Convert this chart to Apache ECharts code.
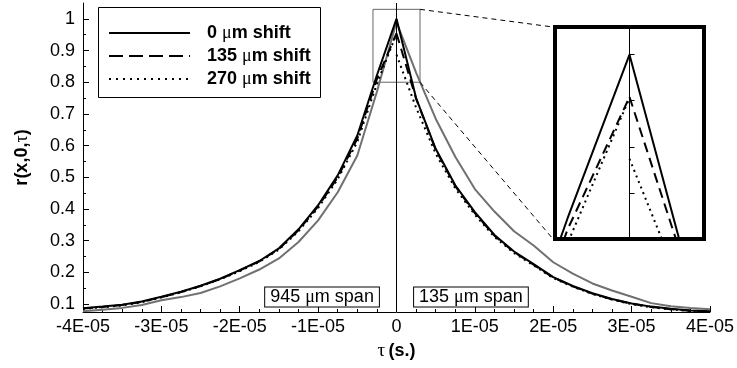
<!DOCTYPE html>
<html>
<head>
<meta charset="utf-8">
<script src="https://cdn.jsdelivr.net/npm/echarts@6/dist/echarts.min.js"></script>
<style>
  html, body { margin: 0; padding: 0; background: #fff; }
  #chart { width: 737px; height: 368px; }
</style>
</head>
<body>
<div id="chart"></div>
<script>
// lag values (s.), left half (945 um span) and right half (135 um span)
const tauLeft = [-4e-5, -3.75e-5, -3.5e-5, -3.25e-5, -3e-5, -2.75e-5, -2.5e-5, -2.25e-5, -2e-5,
  -1.75e-5, -1.5e-5, -1.25e-5, -1e-5, -7.5e-6, -5e-6, -2.5e-6, 0];
const tauRight = [0, 2.5e-6, 5e-6, 7.5e-6, 1e-5, 1.25e-5, 1.5e-5, 1.75e-5, 2e-5,
  2.25e-5, 2.5e-5, 2.75e-5, 3e-5, 3.25e-5, 3.5e-5, 3.75e-5, 4e-5];

const shift0Left = [0.087, 0.092, 0.098, 0.108, 0.123, 0.139, 0.158, 0.18, 0.207, 0.236, 0.276, 0.336, 0.412, 0.506, 0.632, 0.822, 1.0];
const shift135Left = [0.086, 0.091, 0.097, 0.107, 0.122, 0.138, 0.157, 0.179, 0.206, 0.235, 0.274, 0.333, 0.408, 0.5, 0.622, 0.81, 0.954];
const shift270Left = [0.085, 0.09, 0.096, 0.106, 0.121, 0.137, 0.156, 0.178, 0.204, 0.233, 0.272, 0.33, 0.403, 0.494, 0.612, 0.795, 0.953];
const grayLeft = [0.077, 0.082, 0.088, 0.097, 0.112, 0.122, 0.135, 0.156, 0.181, 0.209, 0.244, 0.296, 0.364, 0.453, 0.569, 0.77, 0.99];

const shift0Right = [1.0, 0.75, 0.59, 0.475, 0.39, 0.318, 0.266, 0.226, 0.185, 0.157, 0.134, 0.116, 0.102, 0.092, 0.085, 0.08, 0.077];
const shift135Right = [0.954, 0.748, 0.587, 0.472, 0.387, 0.316, 0.264, 0.224, 0.184, 0.156, 0.133, 0.115, 0.101, 0.091, 0.084, 0.079, 0.076];
const shift270Right = [0.887, 0.72, 0.575, 0.465, 0.382, 0.312, 0.261, 0.222, 0.182, 0.155, 0.132, 0.114, 0.1, 0.09, 0.083, 0.078, 0.075];
const grayRight = [0.99, 0.83, 0.685, 0.565, 0.463, 0.392, 0.33, 0.285, 0.232, 0.196, 0.165, 0.143, 0.123, 0.103, 0.093, 0.088, 0.084];

const yMajor = [0.1, 0.2, 0.3, 0.4, 0.5, 0.6, 0.7, 0.8, 0.9, 1];
const yMinor = [0.15, 0.25, 0.35, 0.45, 0.55, 0.65, 0.75, 0.85, 0.95];

const legendNames = ['0', '135', '270'];
const spanLabels = ['945', '135'];
const spanX = [-0.95e-5, 0.95e-5];

const SANS = '"Liberation Sans", Arial, Helvetica, sans-serif';
const GREEK = '"Liberation Serif", "DejaVu Serif", serif';
const DASH = [10, 6];
const DOT = [2, 4];

const pairs = (xs, ys) => xs.map((x, i) => [x, ys[i]]);

const fmtTau = v => {
  if (Math.abs(v) < 1e-12) return '0';
  const s = v.toExponential(0);             // e.g. -4e-5
  const m = s.match(/^(-?\d)e([+-])(\d+)$/);
  return m[1] + 'E' + m[2] + m[3].padStart(2, '0');
};

const chart = echarts.init(document.getElementById('chart'));

// one line series, main plot (grid 0) or inset (grid 1)
function line(xs, ys, type, color, grid, extra) {
  return Object.assign({
    type: 'line',
    xAxisIndex: grid,
    yAxisIndex: grid === 0 ? 0 : 2,
    data: pairs(xs, ys),
    symbol: 'none',
    silent: true,
    clip: true,
    lineStyle: { color: color, width: 2, type: type },
    z: color === '#000' ? 3 : 2,
  }, extra || {});
}

const series = [
  line(tauLeft, grayLeft, 'solid', '#707070', 0),
  line(tauRight, grayRight, 'solid', '#707070', 0),
  line(tauLeft, shift270Left, DOT, '#000', 0),
  line(tauRight, shift270Right, DOT, '#000', 0),
  line(tauLeft, shift135Left, DASH, '#000', 0),
  line(tauRight, shift135Right, DASH, '#000', 0),
  line(tauLeft, shift0Left, 'solid', '#000', 0, {
    markLine: {
      silent: true,
      symbol: ['none', 'none'],
      label: { show: false },
      lineStyle: { color: '#000', width: 1, type: 'solid' },
      data: [{ xAxis: 0 }],
    },
  }),
  line(tauRight, shift0Right, 'solid', '#000', 0, {
    markArea: {
      silent: true,
      itemStyle: { color: 'rgba(0,0,0,0)', borderColor: '#666', borderWidth: 1 },
      data: [[{ xAxis: -3e-6, yAxis: 0.8 }, { xAxis: 3e-6, yAxis: 1.03 }]],
    },
  }),
  // inset
  line(tauLeft, shift270Left, DOT, '#000', 1),
  line(tauRight, shift270Right, DOT, '#000', 1),
  line(tauLeft, shift135Left, DASH, '#000', 1),
  line(tauRight, shift135Right, DASH, '#000', 1),
  line(tauLeft, shift0Left, 'solid', '#000', 1),
  line(tauRight, shift0Right, 'solid', '#000', 1),
];

const option = {
  animation: false,
  backgroundColor: '#fff',
  grid: [
    { left: 83, right: 24, top: 3, bottom: 56 },
    { left: 555, top: 27, width: 149, height: 212, show: true,
      backgroundColor: '#fff', borderColor: '#000', borderWidth: 4 },
  ],
  xAxis: [
    {
      type: 'value', gridIndex: 0, min: -4e-5, max: 4e-5, interval: 1e-5,
      name: '{g|τ} {b|(s.)}',
      nameLocation: 'middle', nameGap: 30,
      nameTextStyle: {
        rich: {
          g: { fontFamily: GREEK, fontSize: 19, color: '#000' },
          b: { fontFamily: SANS, fontSize: 18, fontWeight: 'bold', color: '#000' },
        },
      },
      axisLine: { onZero: false, lineStyle: { color: '#000', width: 1 } },
      axisTick: { inside: true, length: 6, lineStyle: { color: '#000' } },
      minorTick: { show: true, splitNumber: 4, length: 3, lineStyle: { color: '#000' } },
      axisLabel: { formatter: fmtTau, fontFamily: SANS, fontSize: 18, color: '#000', margin: 6 },
      splitLine: { show: false },
    },
    { type: 'value', gridIndex: 1, min: -3e-6, max: 3e-6, show: false },
  ],
  yAxis: [
    {
      type: 'value', gridIndex: 0, min: 0.075, max: 1.05,
      name: '{b|r(x,0,}{g|τ}{b|)}',
      nameLocation: 'middle', nameGap: 52, nameRotate: 90,
      nameTextStyle: {
        rich: {
          g: { fontFamily: GREEK, fontSize: 18, color: '#000' },
          b: { fontFamily: SANS, fontSize: 18, fontWeight: 'bold', color: '#000' },
        },
      },
      axisLine: { show: true, onZero: false, lineStyle: { color: '#000', width: 1 } },
      axisTick: { inside: true, length: 6, customValues: yMajor, lineStyle: { color: '#000' } },
      axisLabel: { customValues: yMajor, formatter: v => String(v), fontFamily: SANS, fontSize: 18, color: '#000', margin: 8 },
      splitLine: { show: false },
    },
    {
      type: 'value', gridIndex: 0, min: 0.075, max: 1.05, position: 'left',
      axisLine: { show: false, onZero: false },
      axisTick: { inside: true, length: 3, customValues: yMinor, lineStyle: { color: '#000' } },
      axisLabel: { show: false },
      splitLine: { show: false },
    },
    {
      type: 'value', gridIndex: 1, min: 0.8, max: 1.03, interval: 0.05,
      axisLine: { show: true, onZero: true, lineStyle: { color: '#000', width: 1 } },
      axisTick: { inside: true, length: 5, lineStyle: { color: '#000' } },
      axisLabel: { show: false },
      splitLine: { show: false },
    },
  ],
  series: series,
};

chart.setOption(option);

// legend, span labels and zoom connectors
const rowY = [33, 56, 79];
const rowDash = [null, [14, 6], [2, 5]];
const gfx = [
  { type: 'rect', z: 10, shape: { x: 98.5, y: 7.5, width: 222, height: 90 },
    style: { fill: '#fff', stroke: '#000', lineWidth: 1 } },
];
legendNames.forEach((n, i) => {
  gfx.push({ type: 'line', z: 11, shape: { x1: 109, y1: rowY[i], x2: 190, y2: rowY[i] },
    style: { stroke: '#000', lineWidth: 2, lineDash: rowDash[i] } });
  gfx.push({ type: 'text', z: 11, x: 207, y: rowY[i],
    style: {
      text: '{b|' + n + ' }{g|μ}{b|m shift}',
      verticalAlign: 'middle',
      rich: {
        b: { fontFamily: SANS, fontSize: 18, fontWeight: 'bold', fill: '#000' },
        g: { fontFamily: GREEK, fontSize: 18, fill: '#000' },
      },
    } });
});

spanLabels.forEach((s, i) => {
  const p = chart.convertToPixel({ gridIndex: 0 }, [spanX[i], 0.1]);
  gfx.push({ type: 'text', z: 11, x: p[0], y: 297,
    style: {
      text: '{n|' + s + ' }{g|μ}{n|m span}',
      align: 'center', verticalAlign: 'middle',
      backgroundColor: '#fff', borderColor: '#000', borderWidth: 1,
      padding: [1, 5, 0, 5],
      rich: {
        n: { fontFamily: SANS, fontSize: 18, fill: '#000' },
        g: { fontFamily: GREEK, fontSize: 18, fill: '#000' },
      },
    } });
});

const r1 = chart.convertToPixel({ gridIndex: 0 }, [3e-6, 1.03]);
const r2 = chart.convertToPixel({ gridIndex: 0 }, [3e-6, 0.8]);
const q1 = chart.convertToPixel({ gridIndex: 1 }, [-3e-6, 1.03]);
const q2 = chart.convertToPixel({ gridIndex: 1 }, [-3e-6, 0.8]);
[[r1, q1], [r2, q2]].forEach(([a, b]) => {
  gfx.push({ type: 'line', z: 4, shape: { x1: a[0], y1: a[1], x2: b[0] - 2, y2: b[1] },
    style: { stroke: '#000', lineWidth: 1, lineDash: [5, 4] } });
});

chart.setOption({ graphic: gfx });
</script>
</body>
</html>
